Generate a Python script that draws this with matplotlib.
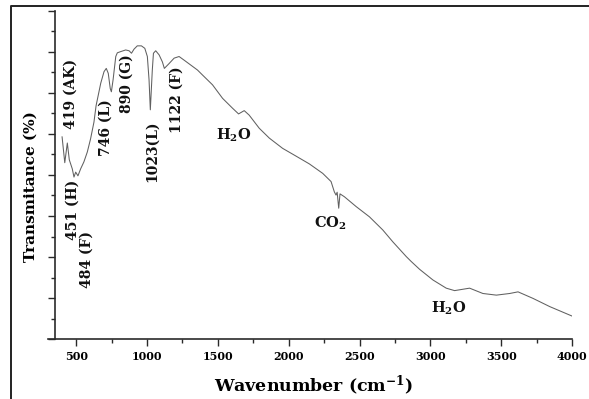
import matplotlib
matplotlib.use("Agg")
import matplotlib.pyplot as plt
from matplotlib.lines import Line2D
from matplotlib.ticker import MultipleLocator

plt.rcParams['mathtext.fontset'] = 'dejavuserif'

# FTIR spectrum: wavenumber (cm^-1) and transmittance (arbitrary %, axis unlabeled)
wavenumber = [400, 419, 437, 451, 472, 484, 496, 512, 531, 554, 578, 601, 625,
              640, 673, 696, 712, 726, 740, 748, 760, 779, 790, 814, 849, 873,
              890, 908, 931, 960, 984, 1002, 1014, 1023, 1037, 1045, 1061, 1085,
              1108, 1122, 1156, 1191, 1226, 1262, 1309, 1356, 1391, 1462, 1533,
              1603, 1646, 1686, 1721, 1792, 1863, 1957, 2052, 2146, 2240, 2299,
              2322, 2334, 2342, 2353, 2362, 2393, 2476, 2570, 2664, 2735, 2830,
              2865, 2924, 3018, 3112, 3171, 3277, 3371, 3466, 3560, 3619, 3725,
              3843, 4000]
transmittance = [49.3, 43.0, 47.8, 43.7, 41.5, 39.5, 40.7, 39.8, 41.5, 43.2, 45.6,
                 48.8, 52.9, 56.9, 62.4, 65.2, 66.0, 64.8, 61.1, 60.3, 63.2, 68.9,
                 69.8, 70.1, 70.5, 70.3, 69.7, 70.7, 71.5, 71.5, 70.9, 68.9, 63.2,
                 55.9, 65.6, 69.7, 70.3, 69.3, 67.6, 66.0, 67.2, 68.5, 68.9, 68.0,
                 66.8, 65.6, 64.4, 62.0, 58.7, 56.3, 54.9, 55.7, 54.6, 51.4, 49.0,
                 46.5, 44.6, 42.7, 40.4, 38.4, 35.9, 35.1, 35.8, 31.9, 35.4, 34.7,
                 32.3, 29.8, 26.6, 23.7, 20.1, 18.9, 17.0, 14.4, 12.4, 11.8, 12.4,
                 11.1, 10.7, 11.1, 11.5, 9.9, 7.9, 5.6]

# Band assignments: rotated labels placed beside their bands
band_labels = ["419 (AK)", "451 (H)", "484 (F)", "746 (L)", "890 (G)", "1023(L)", "1122 (F)"]
band_x = [460, 477, 576, 710, 859, 1035, 1212]
band_y = [59.8, 31.5, 19.3, 51.5, 62.4, 45.9, 58.3]

# Molecular bands: horizontal labels
mol_labels = [r"H$_\mathbf{2}$O", r"CO$_\mathbf{2}$", r"H$_\mathbf{2}$O"]
mol_x = [1609, 2294, 3129]
mol_y = [49.6, 28.3, 7.6]

xticks = [500, 1000, 1500, 2000, 2500, 3000, 3500, 4000]

fig = plt.figure(figsize=(5.89, 3.99), dpi=100)
ax = fig.add_axes([55 / 589, 1 - 339 / 399, 517 / 589, 328 / 399])

ax.plot(wavenumber, transmittance, color="#606060", lw=0.75)

ax.set_xlim(350, 4000)
ax.set_ylim(0, 80)

for s in ("top", "right"):
    ax.spines[s].set_visible(False)
for s in ("left", "bottom"):
    ax.spines[s].set_color("#2a2a2a")
    ax.spines[s].set_linewidth(1.2)
ax.spines["bottom"].set_bounds(300, 4000)

ax.set_xticks(xticks)
ax.set_xticklabels([str(t) for t in xticks], fontfamily="DejaVu Serif",
                   fontweight="bold", fontsize=8)
ax.xaxis.set_minor_locator(MultipleLocator(250))
ax.yaxis.set_major_locator(MultipleLocator(10))
ax.yaxis.set_minor_locator(MultipleLocator(5))
ax.tick_params(axis="both", which="major", direction="out", length=5, width=1.0,
               color="#2a2a2a")
ax.tick_params(axis="both", which="minor", direction="out", length=3, width=1.0,
               color="#2a2a2a")
ax.tick_params(axis="y", which="both", labelleft=False)
ax.tick_params(axis="x", pad=4)

ax.set_xlabel(r"Wavenumber (cm$^{\mathbf{-1}}$)", fontfamily="DejaVu Serif",
              fontweight="bold", fontsize=12.5, labelpad=8)
fig.text(31 / 589, 1 - 187 / 399, "Transmitance (%)", rotation=90, ha="center",
         va="center", fontfamily="DejaVu Serif", fontweight="bold", fontsize=11)

for lab, x, y in zip(band_labels, band_x, band_y):
    ax.text(x, y, lab, rotation=90, ha="center", va="center",
            fontfamily="DejaVu Serif", fontweight="bold", fontsize=10,
            color="#111111")

for lab, x, y in zip(mol_labels, mol_x, mol_y):
    ax.text(x, y, lab, ha="center", va="center", fontfamily="DejaVu Serif",
            fontweight="bold", fontsize=10.5, color="#111111")

# outer frame (left and top edges)
fig.add_artist(Line2D([11 / 589, 11 / 589, 1.0], [0.0, 1 - 6 / 399, 1 - 6 / 399],
                      transform=fig.transFigure, color="#222222", lw=1.4))

fig.savefig("out.png", dpi=100)
